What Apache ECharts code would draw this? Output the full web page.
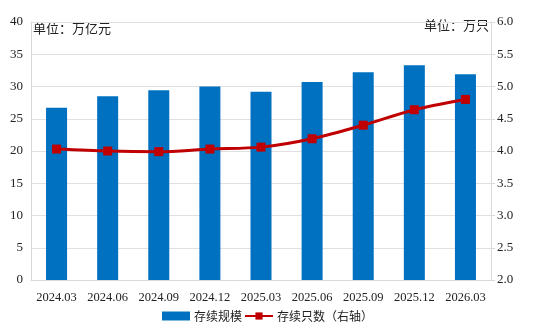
<!DOCTYPE html>
<html><head><meta charset="utf-8">
<script src="https://cdn.jsdelivr.net/npm/echarts@6/dist/echarts.min.js"></script>
<style>html,body{margin:0;padding:0;background:#fff}#c{width:538px;height:335px}</style>
</head><body><div id="c"></div>
<script>
const categories = ['2024.03','2024.06','2024.09','2024.12','2025.03','2025.06','2025.09','2025.12','2026.03'];
const scaleValues = [26.7, 28.5, 29.4, 30.0, 29.2, 30.7, 32.2, 33.3, 31.9];
const countValues = [4.03, 4.00, 3.99, 4.03, 4.06, 4.19, 4.40, 4.64, 4.80];
const seriesNames = ['存续规模', '存续只数（右轴）'];
const unitLeft = '单位：万亿元';
const unitRight = '单位：万只';

const serif = '"Liberation Serif", "Noto Sans CJK SC", serif';
const cjk = '"Noto Sans CJK SC", serif';
const chart = echarts.init(document.getElementById('c'));
chart.setOption({
  animation: false,
  grid: {left: 31, right: 47, top: 22, bottom: 55},
  legend: {
    bottom: 8, left: 157, itemGap: 2,
    textStyle: {fontFamily: cjk, fontSize: 12, color: '#222', padding: [0, 0, 0, -1]},
    data: [
      {name: seriesNames[0], icon: 'rect', itemStyle: {color: '#0070C0'}},
      {name: seriesNames[1]}
    ],
    itemWidth: 28, itemHeight: 9
  },
  graphic: [
    {type: 'text', left: 33, top: 22, style: {text: unitLeft, font: '13px ' + cjk, fill: '#222'}},
    {type: 'text', right: 49, top: 19, style: {text: unitRight, font: '13px ' + cjk, fill: '#222'}}
  ],
  xAxis: {
    type: 'category', data: categories,
    axisLine: {lineStyle: {color: '#d9d9d9'}},
    axisTick: {show: false},
    axisLabel: {fontFamily: serif, fontSize: 12.5, color: '#222', margin: 11, interval: 0}
  },
  yAxis: [
    {type: 'value', min: 0, max: 40, interval: 5,
     axisLine: {show: true, lineStyle: {color: '#d9d9d9'}},
     axisTick: {show: false},
     splitLine: {lineStyle: {color: '#e0e0e0'}},
     axisLabel: {fontFamily: serif, fontSize: 13, color: '#222', margin: 8}},
    {type: 'value', min: 2, max: 6, interval: 0.5,
     axisLine: {show: true, lineStyle: {color: '#d9d9d9'}},
     axisTick: {show: true, length: 4, lineStyle: {color: '#d9d9d9'}},
     splitLine: {show: false},
     axisLabel: {fontFamily: serif, fontSize: 13, color: '#222', margin: 6,
       formatter: v => v.toFixed(1)}}
  ],
  series: [
    {name: seriesNames[0], type: 'bar', data: scaleValues, barWidth: 21,
     itemStyle: {color: '#0070C0'}},
    {name: seriesNames[1], type: 'line', yAxisIndex: 1, data: countValues, smooth: 0.3,
     symbol: 'rect', symbolSize: 9,
     lineStyle: {color: '#C00000', width: 3},
     itemStyle: {color: '#C00000'}}
  ]
});
</script></body></html>
